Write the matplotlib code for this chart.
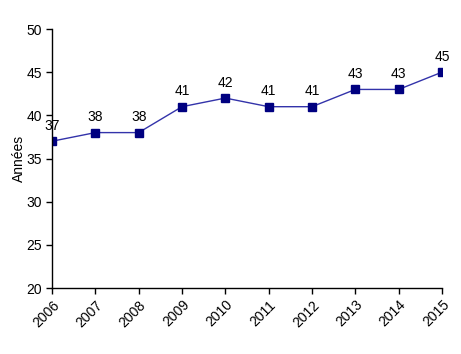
import matplotlib
matplotlib.use("Agg")
import matplotlib.pyplot as plt

years = ["2006", "2007", "2008", "2009", "2010", "2011", "2012", "2013", "2014", "2015"]
values = [37, 38, 38, 41, 42, 41, 41, 43, 43, 45]

plt.rcParams['font.family'] = ['Liberation Sans', 'DejaVu Sans']

fig = plt.figure(figsize=(4.61, 3.54), dpi=100)
ax = fig.add_axes([52 / 461, 1 - 288 / 354, 390 / 461, 259 / 354])

x = list(range(len(years)))
ax.plot(x, values, "-", color="#3333aa", linewidth=1, marker="s",
        markersize=6, markerfacecolor="#000080", markeredgecolor="#000080")

for xi, v in zip(x, values):
    ax.annotate(str(v), (xi, v), xytext=(0, 6), textcoords="offset points",
                ha="center", va="bottom", fontsize=10)

ax.set_xlim(0, len(years) - 1)
ax.set_ylim(20, 50)
ax.set_yticks([20, 25, 30, 35, 40, 45, 50])
ax.set_xticks(x)
ax.set_xticklabels(years, rotation=45, ha="right", rotation_mode="anchor")
ax.tick_params(direction="out", length=4, width=1, labelsize=10, pad=3)
ax.spines["top"].set_visible(False)
ax.spines["right"].set_visible(False)
for s in ["left", "bottom"]:
    ax.spines[s].set_linewidth(1)

fig.text(19 / 461, 1 - 158 / 354, "Années", rotation=90, ha="center",
         va="center", fontsize=10)

fig.savefig("out.png", dpi=100)
